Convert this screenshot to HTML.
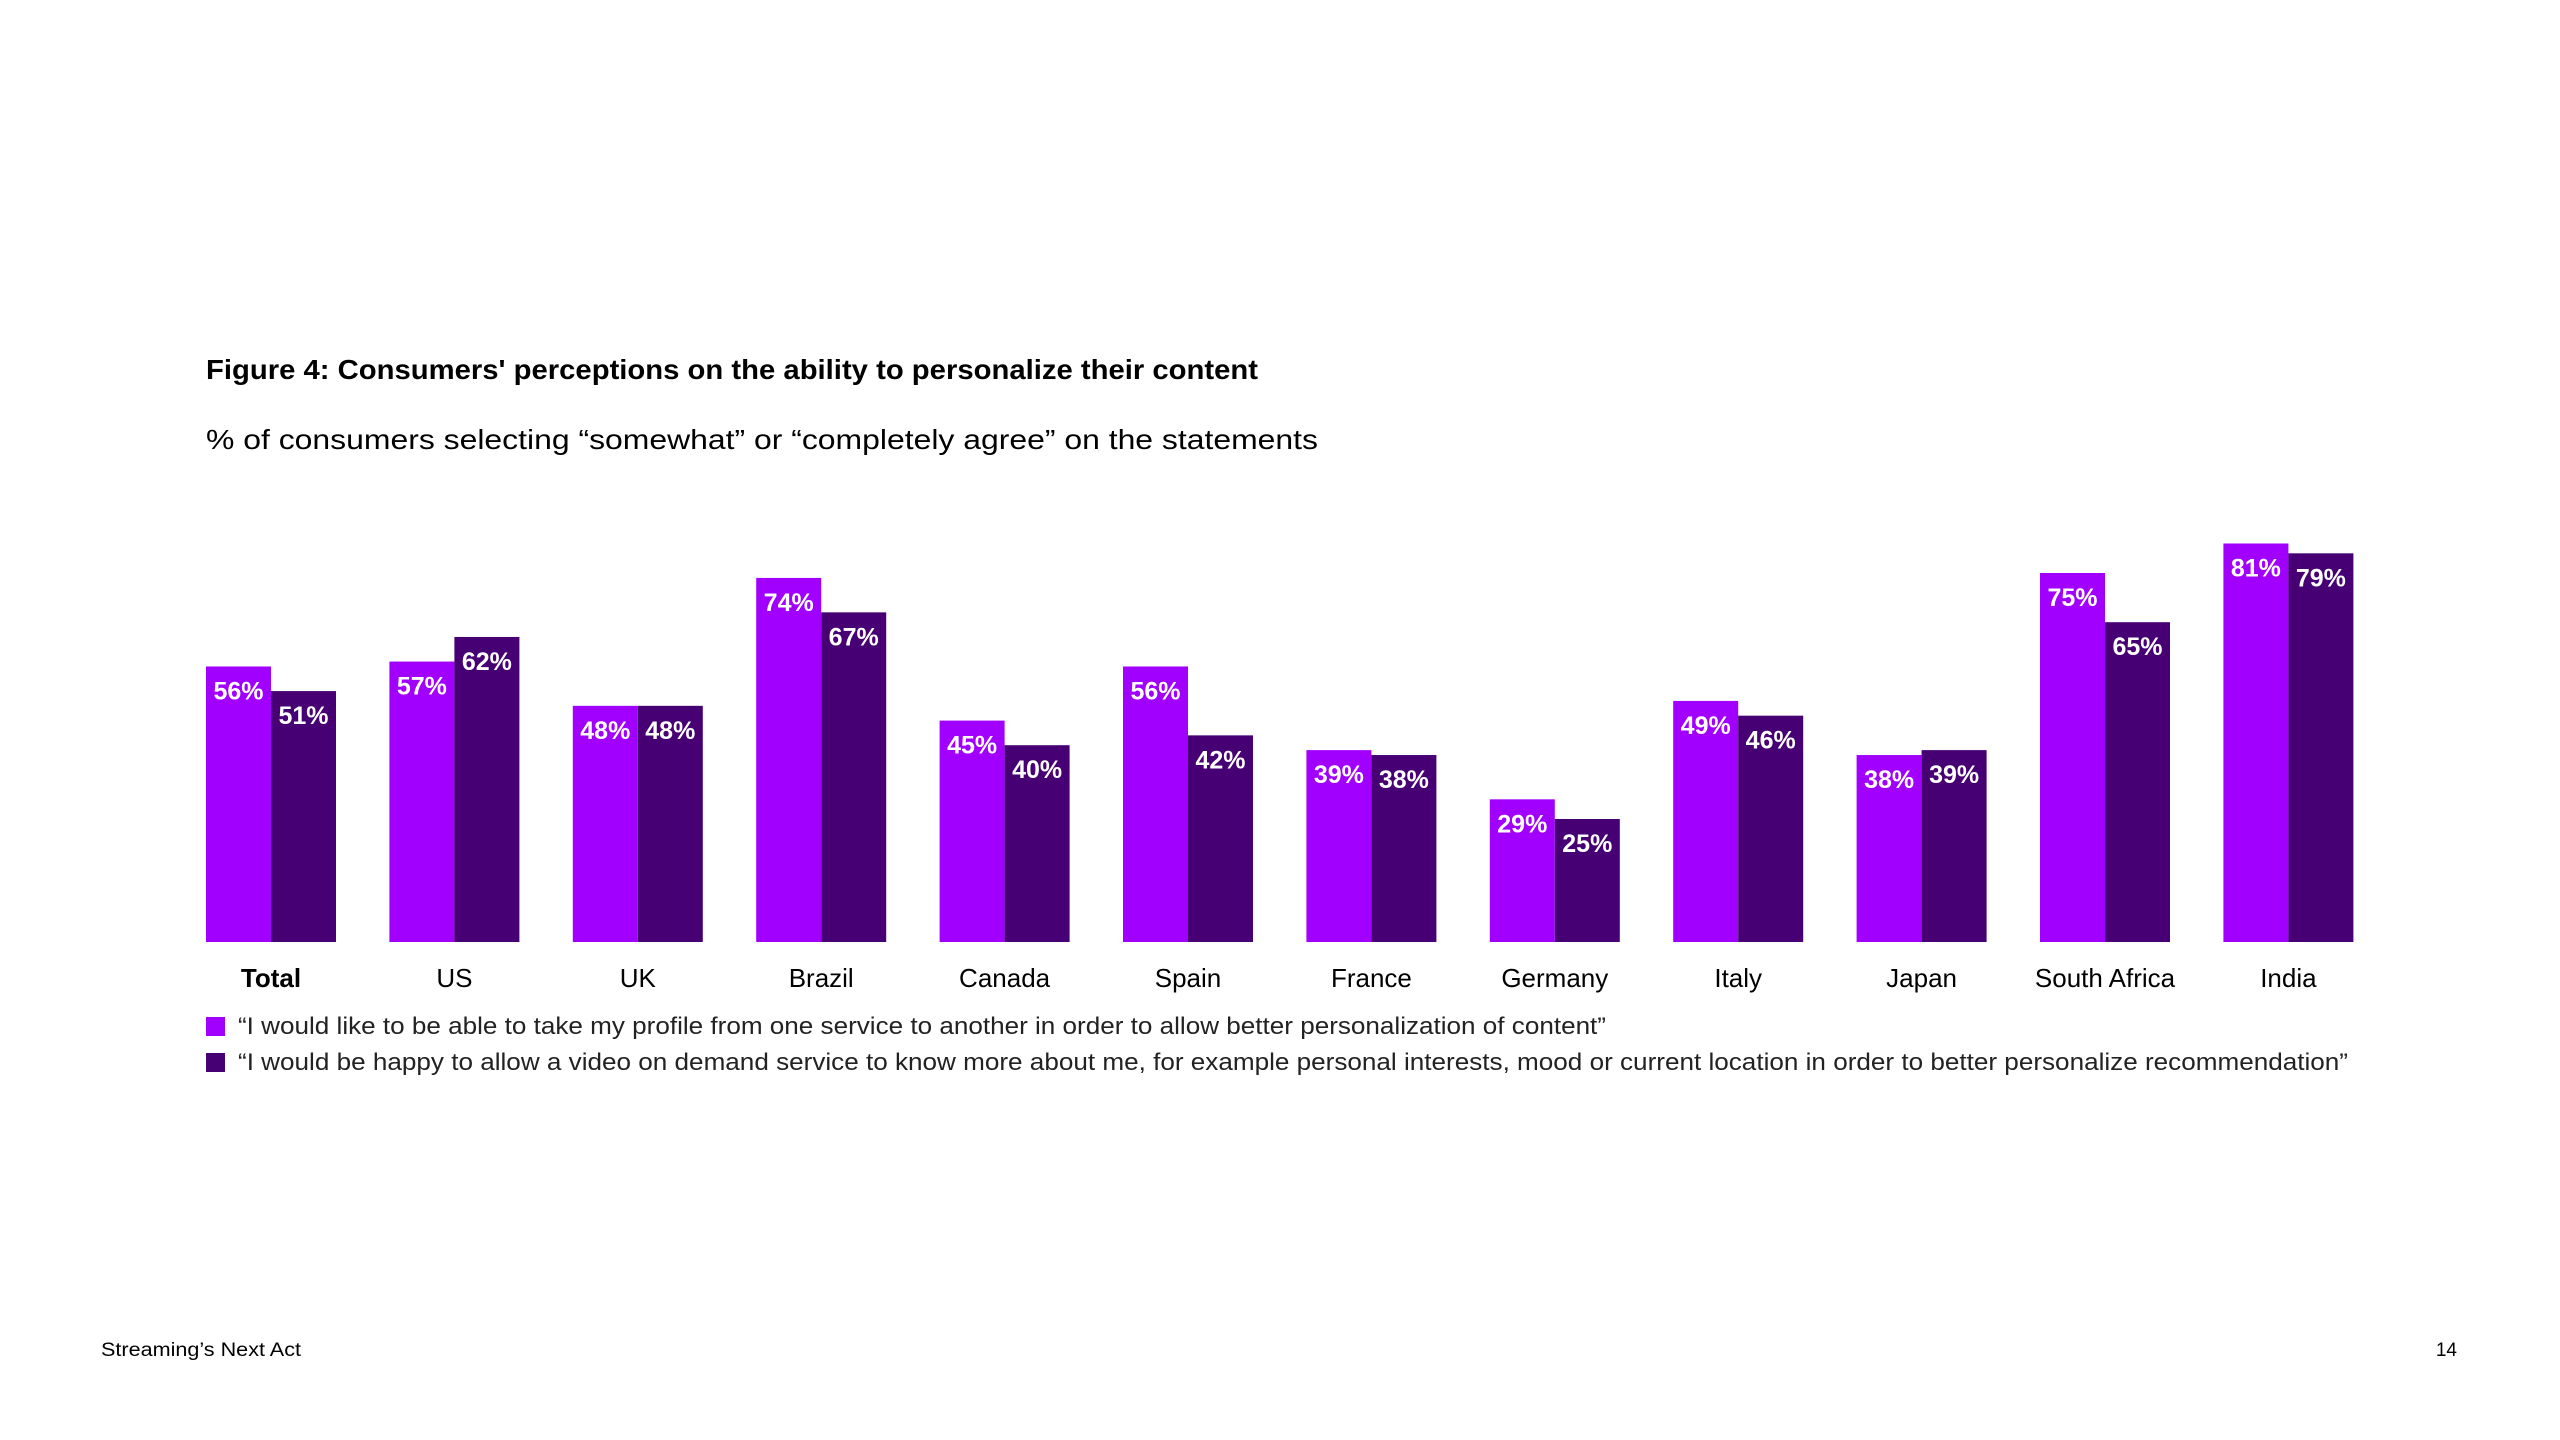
<!DOCTYPE html>
<html><head><meta charset="utf-8"><style>
html,body{margin:0;padding:0;background:#fff;}
svg{display:block;font-family:"Liberation Sans",sans-serif;}
</style></head><body>
<svg id="chart" width="2560" height="1440" viewBox="0 0 2560 1440">
<text x="206" y="379" font-size="28" font-weight="bold" fill="#000" textLength="1052" lengthAdjust="spacingAndGlyphs">Figure 4: Consumers' perceptions on the ability to personalize their content</text>
<text x="206" y="449" font-size="28" fill="#000" textLength="1112" lengthAdjust="spacingAndGlyphs">% of consumers selecting “somewhat” or “completely agree” on the statements</text>
<g id="bars"></g>
<rect x="206" y="1017" width="19" height="19" fill="#A100FF"/>
<text x="238" y="1034" font-size="24" fill="#222" textLength="1368" lengthAdjust="spacingAndGlyphs">“I would like to be able to take my profile from one service to another in order to allow better personalization of content”</text>
<rect x="206" y="1053" width="19" height="19" fill="#460073"/>
<text x="238" y="1070" font-size="24" fill="#222" textLength="2110" lengthAdjust="spacingAndGlyphs">“I would be happy to allow a video on demand service to know more about me, for example personal interests, mood or current location in order to better personalize recommendation”</text>
<text x="101" y="1356" font-size="19" fill="#000" textLength="200" lengthAdjust="spacingAndGlyphs">Streaming’s Next Act</text>
<text x="2457" y="1356" font-size="19" fill="#000" text-anchor="end">14</text>
</svg>
<script>
const categories = ["Total","US","UK","Brazil","Canada","Spain","France","Germany","Italy","Japan","South Africa","India"];
const seriesProfile = [56,57,48,74,45,56,39,29,49,38,75,81];
const seriesVideo = [51,62,48,67,40,42,38,25,46,39,65,79];
const colors = ["#A100FF","#460073"];
const NS = "http://www.w3.org/2000/svg";
const baseY = 942, perPct = 4.92, x0 = 206, step = 183.4, bw = 65;
const yScale = v => baseY - v * perPct;
const xScale = (i, s) => x0 + i * step + s * bw;
const g = document.getElementById("bars");
function mk(tag, attrs){const e=document.createElementNS(NS,tag);for(const k in attrs)e.setAttribute(k,attrs[k]);return e;}
[seriesProfile, seriesVideo].forEach((series, s) => {
  series.forEach((v, i) => {
    const r = mk("rect", {x:xScale(i,s), y:yScale(v), width:bw, height:baseY-yScale(v), fill:colors[s]});
    
    
    g.appendChild(r);
    const t = mk("text", {x:xScale(i,s)+bw/2, y:yScale(v)+33, "font-size":25, "font-weight":"bold", fill:"#fff", "text-anchor":"middle"});
    t.textContent = v + "%";
    
    
    g.appendChild(t);
  });
});
categories.forEach((c, i) => {
  const t = mk("text", {x:xScale(i,1), y:987, "font-size":26, fill:"#000", "text-anchor":"middle", "font-weight": i===0 ? "bold" : "normal"});
  t.textContent = c;
  
  
  g.appendChild(t);
});
</script>
</body></html>
